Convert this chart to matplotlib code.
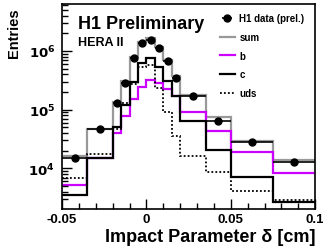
import numpy as np
import matplotlib
matplotlib.use('Agg')
import matplotlib.pyplot as plt

plt.rcParams['font.family'] = ['Liberation Sans', 'DejaVu Sans']
plt.rcParams['font.weight'] = 'bold'

# Bin edges of the impact parameter histogram (cm)
edges = [-0.05, -0.035, -0.02, -0.015, -0.01, -0.005, 0.0, 0.005, 0.01,
         0.015, 0.02, 0.035, 0.05, 0.075, 0.1]

# Entries per bin
data = [1.5e4, 4.6e4, 1.29e5, 2.9e5, 7.5e5, 1.35e6, 1.56e6, 1.11e6,
        6.7e5, 3.5e5, 1.73e5, 6.5e4, 2.8e4, 1.27e4]
mc_sum = [1.6e4, 4.7e4, 1.37e5, 3.1e5, 7.8e5, 1.44e6, 1.66e6, 1.18e6,
          7.0e5, 3.7e5, 1.78e5, 7.4e4, 2.95e4, 1.38e4]
mc_b = [5.3e3, 1.5e4, 4.0e4, 7.7e4, 1.5e5, 2.4e5, 3.2e5, 2.85e5,
        2.25e5, 1.68e5, 9.0e4, 4.4e4, 1.9e4, 8.3e3]
mc_c = [3.5e3, 1.49e4, 5.0e4, 1.18e5, 2.93e5, 6.25e5, 7.6e5, 5.4e5,
        3.1e5, 1.73e5, 6.5e4, 2.06e4, 7.1e3, 2.7e3]
mc_uds = [6.8e3, 1.78e4, 4.7e4, 1.3e5, 2.7e5, 5.3e5, 5.8e5, 2.3e5,
          9.0e4, 3.6e4, 1.64e4, 8.8e3, 4.2e3, 2.9e3]

edges = np.array(edges)
centers = 0.5 * (edges[1:] + edges[:-1])
half_w = 0.5 * (edges[1:] - edges[:-1])

fig = plt.figure(figsize=(3.23, 2.51), dpi=100)
ax = fig.add_axes([0.192, 0.163, 0.784, 0.817])

ax.stairs(mc_sum, edges, baseline=None, color='#999999', linewidth=1.6, label='sum')
ax.stairs(mc_b, edges, baseline=None, color='#cc00ff', linewidth=1.6, label='b')
ax.stairs(mc_c, edges, baseline=None, color='black', linewidth=1.6, label='c')
ax.stairs(mc_uds, edges, baseline=None, color='black', linewidth=1.3,
          linestyle=(0, (1, 1.2)), label='uds')
ax.errorbar(centers, data, xerr=half_w, fmt='o', color='black', markersize=5,
            elinewidth=1.2, capsize=0, label='H1 data (prel.)')

ax.set_yscale('log')
ax.set_xlim(-0.05, 0.1)
ax.set_ylim(2.03e3, 6.3e6)

ax.set_xticks([-0.05, 0, 0.05, 0.1])
ax.set_xticklabels(['-0.05', '0', '0.05', '0.1'])
ax.set_xticks(np.arange(-0.04, 0.1, 0.01), minor=True)
ax.set_yticks([1e4, 1e5, 1e6])
ax.set_yticklabels([r'$\mathbf{10^{4}}$', r'$\mathbf{10^{5}}$', r'$\mathbf{10^{6}}$'])
ax.tick_params(which='both', direction='in', top=False, right=False)
ax.tick_params(axis='x', labelsize=9.5, pad=3)
ax.tick_params(axis='y', labelsize=9.5, pad=5)
ax.tick_params(which='major', length=7.5, width=1)
ax.tick_params(which='minor', length=4, width=1)
for s in ax.spines.values():
    s.set_linewidth(1.2)

ax.set_xlabel('Impact Parameter δ [cm]', fontsize=13, fontweight='bold')
ax.xaxis.set_label_coords(1.0, -0.09)
ax.xaxis.label.set_horizontalalignment('right')
ax.xaxis.label.set_verticalalignment('top')
ax.set_ylabel('Entries', fontsize=10.5, fontweight='bold')
ax.yaxis.set_label_coords(-0.19, 0.985)
ax.yaxis.label.set_verticalalignment('center')
ax.yaxis.label.set_horizontalalignment('right')

ax.text(0.063, 0.883, 'H1 Preliminary', transform=ax.transAxes, fontsize=13,
        fontweight='bold')
ax.text(0.063, 0.80, 'HERA II', transform=ax.transAxes, fontsize=9,
        fontweight='bold')

handles, labels = ax.get_legend_handles_labels()
order = [4, 0, 1, 2, 3]
ax.legend([handles[i] for i in order], [labels[i] for i in order],
          loc='upper left', bbox_to_anchor=(0.622, 0.955), frameon=False,
          fontsize=7, handlelength=1.55, labelspacing=0.9, handletextpad=0.5,
          borderpad=0, borderaxespad=0)

fig.savefig('out.png', dpi=100)
